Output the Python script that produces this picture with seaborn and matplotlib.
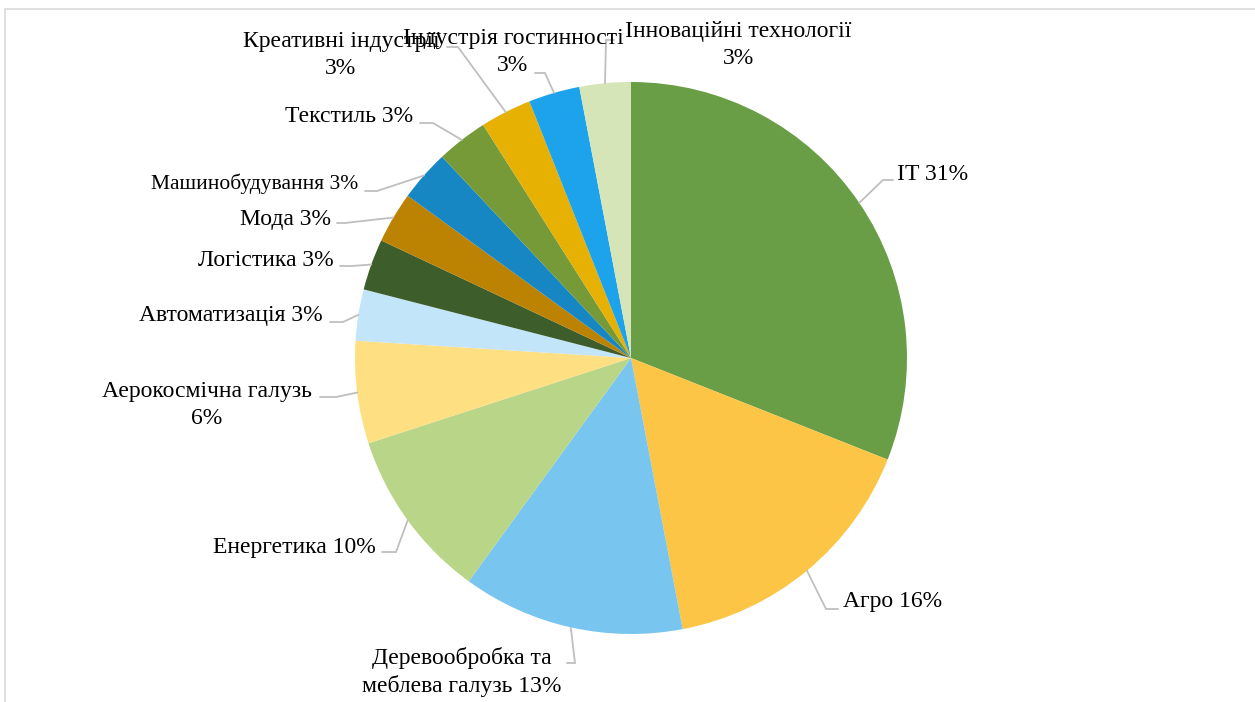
import textwrap
import matplotlib
matplotlib.use('Agg')
import matplotlib.pyplot as plt
import seaborn as sns
import numpy as np
from matplotlib.patches import Rectangle

# sectors and their shares (%), clockwise from the top
sectors = ['IT', 'Агро', 'Деревообробка та меблева галузь', 'Енергетика',
           'Аерокосмічна галузь', 'Автоматизація', 'Логістика', 'Мода',
           'Машинобудування', 'Текстиль', 'Креативні індустрії',
           'Індустрія гостинності', 'Інноваційні технології']
shares = [31, 16, 13, 10, 6, 3, 3, 3, 3, 3, 3, 3, 3]
colors = ['#6A9E46', '#FCC545', '#78C6EF', '#B9D587', '#FEE083', '#C3E5FA',
          '#3D5D2A', '#BC8202', '#1787C4', '#759A37', '#E6B102', '#1DA2EC',
          '#D5E5B8']

# label layout in pixels from top-left: text x, text y, ha, wrap width,
# leader elbow (x, y), leader end x, font size
label_layout = [
    (897, 174, 'left', None, 883, 180, 893, 17),
    (843, 602, 'left', None, 826, 609, 838, 17),
    (462, 672, 'center', 18, 575, 663, 567, 17),
    (376, 548, 'right', None, 396, 552, 382, 17),
    (207, 405, 'center', 19, 336, 397, 320, 17),
    (323, 316, 'right', None, 343, 322, 330, 17),
    (334, 260, 'right', None, 352, 266, 340, 17),
    (331, 219, 'right', None, 345, 223, 337, 17),
    (358, 184, 'right', None, 377, 191, 365, 15.5),
    (413, 116, 'right', None, 433, 123, 420, 17),
    (341, 55, 'center', 19, 458, 47, 447, 17),
    (513, 52, 'center', 22, 545, 73, 535, 17),
    (738, 45, 'center', 22, 606, 40, 614, 17),
]

sns.set_theme(style='white')
plt.rcParams['font.family'] = ['Liberation Serif', 'DejaVu Serif']

W, H = 1255, 702
cx, cy, r = 631, 358, 276

fig = plt.figure(figsize=(W / 100, H / 100), dpi=100)
ax = fig.add_axes([0, 0, 1, 1])

wedges, _ = ax.pie(shares, colors=colors, startangle=90, counterclock=False,
                   center=(cx, H - cy), radius=r,
                   wedgeprops=dict(linewidth=0))
ax.set_xlim(0, W)
ax.set_ylim(0, H)
ax.set_aspect('equal')
ax.axis('off')

# data labels with leader lines
for w, name, val, lay in zip(wedges, sectors, shares, label_layout):
    tx, ty, ha, wrap, ex, ey, sx, fs = lay
    txt = f'{name} {val}%'
    if wrap:
        txt = textwrap.fill(txt, wrap)
    mid = np.deg2rad((w.theta1 + w.theta2) / 2)
    x0 = cx + r * np.cos(mid)
    y0 = (H - cy) + r * np.sin(mid)
    ax.plot([x0, ex, sx], [y0, H - ey, H - ey], color='#BFBFBF', lw=1.3,
            solid_joinstyle='miter')
    ax.text(tx, H - ty, txt, ha=ha, va='center', multialignment='center',
            fontsize=fs, color='black', linespacing=1.37)

# chart area border (partly cropped)
fig.patches.append(Rectangle((5 / W, -0.1), 1.2, (H - 9) / H + 0.1,
                             transform=fig.transFigure, fill=False,
                             edgecolor='#D9D9D9', lw=1.2))

fig.savefig('out.png', dpi=100)
